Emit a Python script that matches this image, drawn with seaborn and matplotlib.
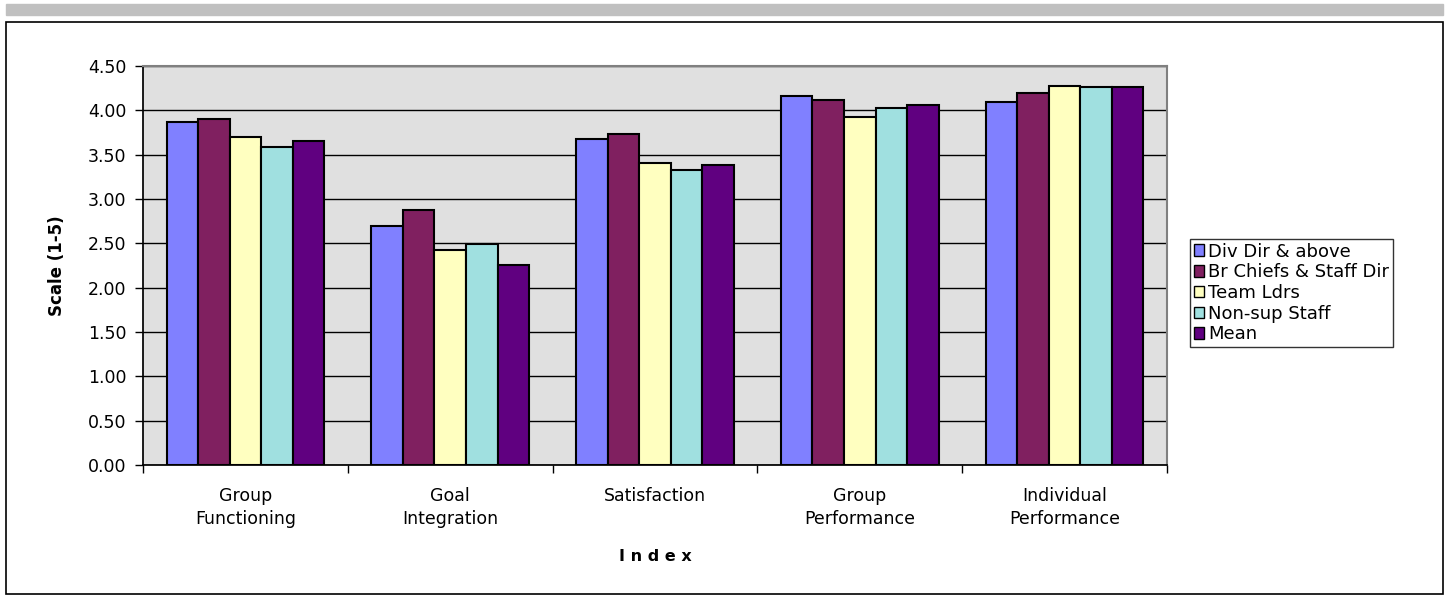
import numpy as np
import pandas as pd
import matplotlib
matplotlib.use("Agg")
import matplotlib.pyplot as plt
import seaborn as sns
from matplotlib.patches import Rectangle

categories = ["Group\nFunctioning", "Goal\nIntegration", "Satisfaction",
              "Group\nPerformance", "Individual\nPerformance"]
groups = ["Div Dir & above", "Br Chiefs & Staff Dir", "Team Ldrs",
          "Non-sup Staff", "Mean"]
div_dir = [3.87, 2.70, 3.68, 4.16, 4.09]
br_chiefs = [3.90, 2.88, 3.73, 4.12, 4.19]
team_ldrs = [3.70, 2.42, 3.41, 3.92, 4.28]
non_sup = [3.59, 2.49, 3.33, 4.03, 4.26]
mean_vals = [3.65, 2.26, 3.38, 4.06, 4.26]
colors = ["#8080FF", "#802060", "#FFFFC0", "#A0E0E0", "#600080"]

rows = []
for g, vals in zip(groups, [div_dir, br_chiefs, team_ldrs, non_sup, mean_vals]):
    for c, v in zip(categories, vals):
        rows.append({"Index": c, "Group": g, "Value": v})
df = pd.DataFrame(rows)

sns.set_theme(style="white")
plt.rcParams["font.family"] = ["DejaVu Sans"]
plt.rcParams["text.color"] = "black"
plt.rcParams["axes.labelcolor"] = "black"
plt.rcParams["xtick.color"] = "black"
plt.rcParams["ytick.color"] = "black"

fig = plt.figure(figsize=(14.49, 5.96), dpi=100)
W, H = 1449, 596
ax = fig.add_axes([143 / W, 1 - 465 / H, (1167 - 143) / W, (465 - 66) / H])

# outer frame and top grey strip
fig.patches.append(Rectangle((6 / W, 1 - 15 / H), (1443 - 6) / W, 11 / H,
                             transform=fig.transFigure, color="#C0C0C0", zorder=0))
fig.patches.append(Rectangle((6 / W, 1 - 594 / H), (1443 - 6) / W, (594 - 22) / H,
                             transform=fig.transFigure, fill=False,
                             edgecolor="black", linewidth=1.2, zorder=0))

ax.set_facecolor("#E0E0E0")
sns.barplot(data=df, x="Index", y="Value", hue="Group", palette=colors,
            width=0.77, edgecolor="black", linewidth=1.5, saturation=1,
            gap=0, ax=ax, zorder=3)

ax.set_ylim(0, 4.5)
ax.set_xlim(-0.5, 4.5)
ax.set_yticks(np.arange(0, 4.51, 0.5))
ax.set_yticklabels([f"{t:.2f}" for t in np.arange(0, 4.51, 0.5)], fontsize=12.5)
ax.yaxis.grid(True, color="black", linewidth=1)
ax.set_axisbelow(True)
ax.tick_params(axis="y", direction="out", length=6, width=1, color="black",
               left=True, pad=6)
ax.tick_params(axis="x", which="major", length=0, labelsize=12.5, pad=16)
for lbl in ax.get_xticklabels():
    lbl.set_linespacing(1.35)
ax.set_xticks(np.arange(-0.5, 4.6, 1), minor=True)
ax.tick_params(axis="x", which="minor", direction="out", length=6, width=1,
               color="black", bottom=True)

for s in ["top", "right"]:
    ax.spines[s].set_color("#808080")
    ax.spines[s].set_linewidth(1.5)
ax.spines["left"].set_color("black")
ax.spines["bottom"].set_color("black")

ax.set_ylabel("Scale (1-5)", fontsize=12, fontweight="bold", labelpad=16)
ax.set_xlabel("I n d e x", fontsize=11.5, fontweight="bold", labelpad=15)

leg = ax.legend(loc="center left", bbox_to_anchor=(1190 / W, 1 - 293 / H),
                bbox_transform=fig.transFigure, fontsize=13, frameon=True,
                fancybox=False, edgecolor="black", borderaxespad=0,
                handlelength=0.6, handleheight=0.6, handletextpad=0.2,
                labelspacing=0.15, borderpad=0.2, title=None)
leg.get_frame().set_linewidth(1)
for h in leg.legend_handles:
    h.set_edgecolor("black")
    h.set_linewidth(1)

fig.savefig("out.png", dpi=100)
